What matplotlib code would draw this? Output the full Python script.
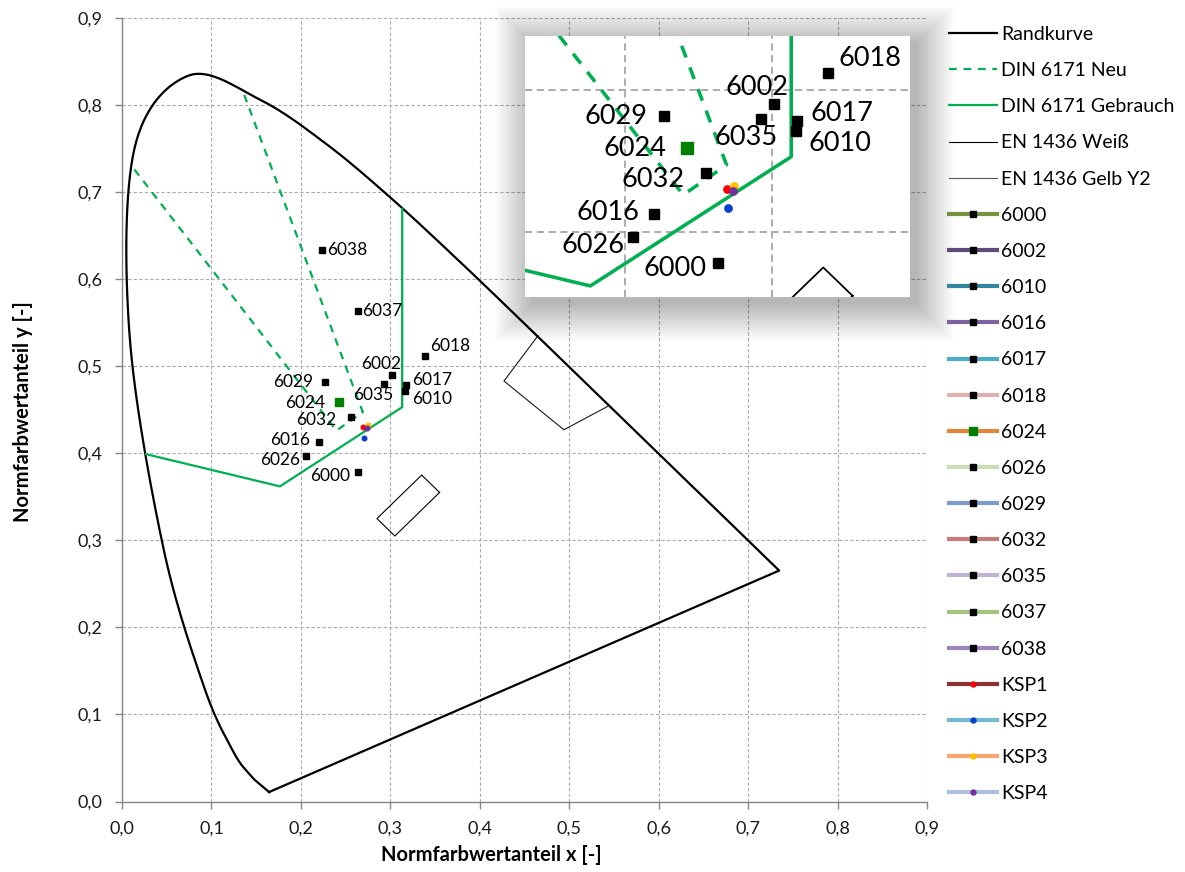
import numpy as np
import matplotlib
matplotlib.use("Agg")
import matplotlib.pyplot as plt
from matplotlib.lines import Line2D
from matplotlib.patches import Rectangle
from matplotlib.ticker import FuncFormatter, MultipleLocator

plt.rcParams['font.family'] = ['Lato', 'DejaVu Sans']

# ---------------- data ----------------
# Randkurve (spectral locus, 440..700 nm, 10 nm steps)
locus_x = [0.1644, 0.1566, 0.1440, 0.1241, 0.0913, 0.0454, 0.0082, 0.0139, 0.0743, 0.1547,
           0.2296, 0.3016, 0.3731, 0.4441, 0.5125, 0.5752, 0.6270, 0.6658, 0.6915, 0.7079,
           0.7190, 0.7260, 0.7300, 0.7320, 0.7334, 0.7344, 0.7347]
locus_y = [0.0109, 0.0177, 0.0297, 0.0578, 0.1327, 0.2950, 0.5384, 0.7502, 0.8338, 0.8059,
           0.7543, 0.6923, 0.6245, 0.5547, 0.4866, 0.4242, 0.3725, 0.3340, 0.3083, 0.2920,
           0.2809, 0.2740, 0.2700, 0.2680, 0.2666, 0.2656, 0.2653]

din_neu_x = [0.0138, 0.2397, 0.2692, 0.1350]
din_neu_y = [0.7260, 0.4261, 0.4472, 0.8160]
din_geb_x = [0.0268, 0.1765, 0.3132, 0.3132]
din_geb_y = [0.3990, 0.3620, 0.4530, 0.6810]
weiss_x = [0.355, 0.305, 0.285, 0.335, 0.355]
weiss_y = [0.355, 0.305, 0.325, 0.375, 0.355]
gelb_x = [0.465, 0.427, 0.494, 0.545]
gelb_y = [0.535, 0.483, 0.427, 0.455]

ral_names = ['6000', '6002', '6010', '6016', '6017', '6018', '6024',
             '6026', '6029', '6032', '6035', '6037', '6038']
ral_x = [0.2637, 0.3017, 0.3162, 0.2201, 0.3173, 0.3385, 0.2421,
         0.2056, 0.2268, 0.2555, 0.2924, 0.2633, 0.2231]
ral_y = [0.3782, 0.4900, 0.4714, 0.4126, 0.4785, 0.5118, 0.4594,
         0.3966, 0.4820, 0.4417, 0.4795, 0.5636, 0.6333]
ral_line_colors = ['#77933C', '#5F497A', '#31859C', '#7E62A0', '#4AACC5', '#E0B0AF', '#E4863A',
                   '#CCDDB5', '#7C9CCD', '#C97B79', '#BFB4D3', '#A6C47E', '#9986BA']

ksp_names = ['KSP1', 'KSP2', 'KSP3', 'KSP4']
ksp_x = [0.2696, 0.2704, 0.2745, 0.2734]
ksp_y = [0.4300, 0.4172, 0.4327, 0.4287]
ksp_marker_colors = ['#FF0000', '#0B3FD0', '#FFC000', '#7030A0']
ksp_line_colors = ['#8B3232', '#72B8D1', '#F6A56E', '#AEBFDD']

# label offsets (pixels) for main plot and inset: (dx, dy, ha)
main_lbl = {'6038': (6, 0, 'left'), '6037': (5, 0, 'left'), '6018': (5, 10, 'left'),
            '6002': (9, 11, 'right'), '6035': (10, -11, 'right'), '6017': (6, 5, 'left'),
            '6010': (7, -8, 'left'), '6029': (-12, 0, 'right'), '6024': (-13, -1, 'right'),
            '6032': (-14, -3, 'right'), '6016': (-9, 2, 'right'), '6026': (-6, -4, 'right'),
            '6000': (-8, -4, 'right')}
inset_lbl = {'6018': (10, 15, 'left'), '6002': (14, 17, 'right'), '6029': (-17, -1, 'right'),
             '6017': (13, 7, 'left'), '6035': (17, -18, 'right'), '6010': (13, -13, 'left'),
             '6024': (-20, -1, 'right'), '6032': (-22, -7, 'right'), '6016': (-15, 2, 'right'),
             '6026': (-9, -9, 'right'), '6000': (-12, -6, 'right')}

GREEN = '#00B050'


def catmull(xs, ys, n=16):
    p = np.column_stack([xs, ys])
    p = np.vstack([p[0], p, p[-1]])
    out = []
    for i in range(1, len(p) - 2):
        p0, p1, p2, p3 = p[i - 1], p[i], p[i + 1], p[i + 2]
        t = np.linspace(0, 1, n, endpoint=False)[:, None]
        seg = 0.5 * ((2 * p1) + (-p0 + p2) * t + (2 * p0 - 5 * p1 + 4 * p2 - p3) * t ** 2
                     + (-p0 + 3 * p1 - 3 * p2 + p3) * t ** 3)
        out.append(seg)
    out.append(p[-2][None, :])
    a = np.vstack(out)
    return a[:, 0], a[:, 1]


sx, sy = catmull(locus_x, locus_y)
loc_x = np.concatenate([sx, [locus_x[0]]])
loc_y = np.concatenate([sy, [locus_y[0]]])

W, H = 1185.0, 872.0
fig = plt.figure(figsize=(11.85, 8.72), dpi=100)
ax = fig.add_axes([0.1030, 0.0808, 0.6793, 0.8986])


def draw_content(a, scale, label_offsets, fs):
    a.plot(loc_x, loc_y, color='black', lw=1.6 * scale, solid_joinstyle='round')
    a.plot(din_neu_x, din_neu_y, color=GREEN, lw=1.6 * scale, ls=(0, (3.5, 3.0)))
    a.plot(din_geb_x, din_geb_y, color=GREEN, lw=1.6 * scale)
    a.plot(weiss_x, weiss_y, color='black', lw=0.8 * scale)
    a.plot(gelb_x, gelb_y, color='#1a1a1a', lw=0.8 * scale)
    for name, x, y in zip(ral_names, ral_x, ral_y):
        if name == '6024':
            a.plot([x], [y], ls='none', marker='s', ms=5.6 * scale, mfc='#008000', mec='#008000')
        else:
            a.plot([x], [y], ls='none', marker='s', ms=4.2 * scale, mfc='black', mec='black')
        if name in label_offsets:
            dx, dy, ha = label_offsets[name]
            a.annotate(name, (x, y), xytext=(dx, dy), textcoords='offset pixels',
                       ha=ha, va='center', fontsize=fs, color='black')
    for x, y, c in zip(ksp_x, ksp_y, ksp_marker_colors):
        a.plot([x], [y], ls='none', marker='o', ms=3.3 * scale, mfc=c, mec=c)


draw_content(ax, 1.0, main_lbl, 12.5)
ax.set_xlim(0, 0.9)
ax.set_ylim(0, 0.9)
ax.xaxis.set_major_locator(MultipleLocator(0.1))
ax.yaxis.set_major_locator(MultipleLocator(0.1))
fmt = FuncFormatter(lambda v, p: f"{v:.1f}".replace('.', ','))
ax.xaxis.set_major_formatter(fmt)
ax.yaxis.set_major_formatter(fmt)
ax.grid(True, color='#ABABAB', lw=0.8, ls=(0, (3, 2)))
ax.set_axisbelow(True)
for s in ['top', 'right']:
    ax.spines[s].set_visible(False)
for s in ['left', 'bottom']:
    ax.spines[s].set_color('#868686')
    ax.spines[s].set_linewidth(1.0)
ax.tick_params(axis='both', direction='out', length=5, width=1, color='#868686',
               labelsize=13, pad=9, labelcolor='#1a1a1a')
ax.set_xlabel('Normfarbwertanteil x [-]', fontsize=14.5, fontweight='bold')
ax.set_ylabel('Normfarbwertanteil y [-]', fontsize=14.5, fontweight='bold')
ax.xaxis.set_label_coords(0.459, -0.056)
ax.yaxis.set_label_coords(-0.111, 0.497)

# inset with soft shadow
ins_rect = [0.4430, 0.6594, 0.3249, 0.2993]
for i in range(24):
    e = i * 1.6
    ox, oy = 7 / W, -7 / H
    r = Rectangle((ins_rect[0] + ox - e / W, ins_rect[1] + oy - e / H),
                  ins_rect[2] + 2 * e / W, ins_rect[3] + 2 * e / H,
                  transform=fig.transFigure, facecolor='black', edgecolor='none',
                  alpha=0.012, zorder=0.5)
    fig.patches.append(r)

axi = fig.add_axes(ins_rect)
axi.set_zorder(1)
draw_content(axi, 1.6, inset_lbl, 19.5)
axi.set_xlim(0.132, 0.394)
axi.set_ylim(0.3542, 0.538)
axi.set_xticks([0.2, 0.3])
axi.set_yticks([0.4, 0.5])
axi.tick_params(length=0, labelbottom=False, labelleft=False)
axi.grid(True, color='#A6A6A6', lw=1.3, ls=(0, (4, 2.5)))
axi.set_axisbelow(True)
for s in axi.spines.values():
    s.set_visible(False)

# legend
handles = [
    Line2D([], [], color='black', lw=1.6),
    Line2D([], [], color=GREEN, lw=1.6, ls=(0, (3.5, 3.0))),
    Line2D([], [], color=GREEN, lw=1.6),
    Line2D([], [], color='black', lw=0.8),
    Line2D([], [], color='#595959', lw=0.8),
]
labels = ['Randkurve', 'DIN 6171 Neu', 'DIN 6171 Gebrauch', 'EN 1436 Weiß', 'EN 1436 Gelb Y2']
for name, c in zip(ral_names, ral_line_colors):
    if name == '6024':
        handles.append(Line2D([], [], color=c, lw=3, marker='s', ms=6, mfc='#008000', mec='#008000'))
    else:
        handles.append(Line2D([], [], color=c, lw=3, marker='s', ms=4.2, mfc='black', mec='black'))
    labels.append(name)
for name, lc, mc in zip(ksp_names, ksp_line_colors, ksp_marker_colors):
    handles.append(Line2D([], [], color=lc, lw=3, marker='o', ms=3.6, mfc=mc, mec=mc))
    labels.append(name)

fig.legend(handles, labels, loc='upper left', bbox_to_anchor=(949 / W, 1 - 26 / H),
           frameon=False, fontsize=14, handlelength=2.49, handletextpad=0.2,
           labelspacing=0.985, borderpad=0, borderaxespad=0)

fig.savefig('out.png', dpi=100)
